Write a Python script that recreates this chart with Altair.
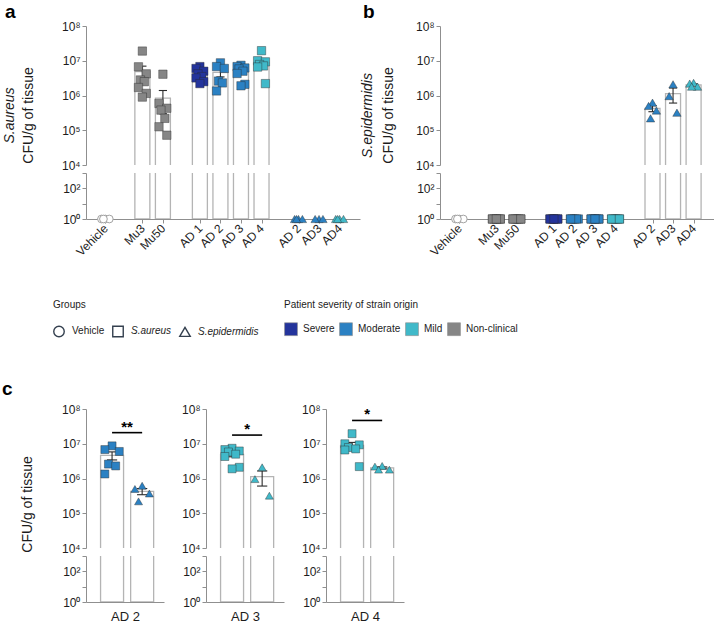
import altair as alt
import pandas as pd

FONT = "Liberation Sans"

# ---- CFU per gram of tissue, one entry per mouse ----
SA_STRAINS = ["Mu3", "Mu50", "AD 1", "AD 2", "AD 3", "AD 4"]
SA_SEVERITY = ["Non-clinical", "Non-clinical", "Severe", "Moderate", "Moderate", "Mild"]
sa_mu3 = [1.9e7, 6.7e6, 4.2e6, 2.8e6, 2.5e6, 1.7e6, 1.15e6, 9.0e5]
sa_mu50 = [4.1e6, 5.9e5, 4.3e5, 3.8e5, 2.2e5, 1.26e5, 7.2e4]
sa_ad1 = [6.8e6, 6.0e6, 5.0e6, 4.2e6, 3.5e6, 3.2e6, 2.5e6, 2.2e6]
sa_ad2 = [8.7e6, 6.8e6, 6.0e6, 2.6e6, 2.3e6, 1.35e6]
sa_ad3 = [7.4e6, 6.8e6, 6.2e6, 5.8e6, 5.0e6, 4.3e6, 2.1e6, 1.9e6]
sa_ad4 = [1.95e7, 1.0e7, 9.3e6, 7.8e6, 7.1e6, 6.6e6, 2.2e6]
SA_VALUES = [sa_mu3, sa_mu50, sa_ad1, sa_ad2, sa_ad3, sa_ad4]

SE_STRAINS = ["AD 2", "AD3", "AD4"]
SE_SEVERITY = ["Moderate", "Moderate", "Mild"]
se_ad2 = [6.2e5, 5.0e5, 3.7e5, 2.2e5]
se_ad3 = [2.1e6, 9.6e5, 3.2e5]
se_ad4 = [2.3e6, 2.2e6, 1.8e6, 1.8e6]
SE_VALUES = [se_ad2, se_ad3, se_ad4]

VEHICLE_MICE = 4
BELOW_DETECTION = 1.0  # plotted on the 10^0 line

# paired S. aureus vs S. epidermidis comparison per AD strain
PAIR_STRAINS = ["AD 2", "AD 3", "AD 4"]
PAIR_SEVERITY = ["Moderate", "Mild", "Mild"]
PAIR_SA = [sa_ad2, sa_ad3, sa_ad4]
PAIR_SE = [se_ad2, se_ad3, se_ad4]
PAIR_SIGNIFICANCE = ["**", "*", "*"]

GROUPS = ["Vehicle", "S.aureus", "S.epidermidis"]
GROUP_SHAPES = ["circle", "square", "triangle-up"]
SEVERITIES = ["Severe", "Moderate", "Mild", "Non-clinical"]
SEVERITY_COLORS = ["#24349c", "#2b81c3", "#40b9c9", "#868686"]

# ---- styling ----
EDGE = "#b4b4b4"
AXIS_GREY = "#8f8f8f"
INK = "#1c1c1c"
SUP_EXPR = "'10' + ['\u2070','\u00b9','\u00b2','\u00b3','\u2074','\u2075','\u2076','\u2077','\u2078'][round(log(datum.value) / LN10)]"
LOW_EXPR = "datum.value == 1 ? '10\u2070' : (datum.value == 100 ? '10\u00b2' : '')"
SPREAD = [0.0, -1.0, 1.0, -0.5, 0.5, -1.0, 1.0, 0.0, -0.5]

SHAPE_LEGEND = alt.Legend(
    title="Groups", orient="none", legendX=-33, legendY=274, direction="horizontal",
    titleFont=FONT, titleFontSize=10, titleFontWeight="normal", titleColor=INK,
    titlePadding=15, labelFont=FONT, labelFontSize=10, labelColor=INK,
    labelOffset=7, symbolSize=110, symbolStrokeWidth=1.4, columnPadding=4,
    symbolFillColor="transparent", symbolStrokeColor="#34404f",
    labelFontStyle=alt.ExprRef(expr="datum.label == 'Vehicle' ? 'normal' : 'italic'"),
)
FILL_LEGEND = alt.Legend(
    title="Patient severity of strain origin", orient="none", legendX=198, legendY=274,
    direction="horizontal", titleFont=FONT, titleFontSize=10,
    titleFontWeight="normal", titleColor=INK, titlePadding=12, labelFont=FONT,
    labelFontSize=10, labelColor=INK, labelOffset=5, symbolType="square",
    symbolSize=165, columnPadding=3, symbolStrokeColor="#8a8a8a",
    symbolStrokeWidth=0.6,
)
SHAPE = alt.Shape("group:N", scale=alt.Scale(domain=GROUPS, range=GROUP_SHAPES),
                  legend=SHAPE_LEGEND)
FILL = alt.Fill("severity:N", scale=alt.Scale(domain=SEVERITIES, range=SEVERITY_COLORS),
                legend=FILL_LEGEND)


def slot_positions():
    # clusters: vehicle | reference strains | AD S. aureus | AD S. epidermidis
    pos, x = [], 0.7
    for n in [1, 2, 4, 3]:
        pos += [x + i for i in range(n)]
        x += n - 1 + 1.8
    return pos


def overview_table(measured):
    slots = [("Vehicle", "Vehicle", None, [BELOW_DETECTION] * VEHICLE_MICE)]
    for name, sev, vals in zip(SA_STRAINS, SA_SEVERITY, SA_VALUES):
        v = vals if measured == "S.aureus" else [BELOW_DETECTION] * len(vals)
        slots.append((name, "S.aureus", sev, v))
    for name, sev, vals in zip(SE_STRAINS, SE_SEVERITY, SE_VALUES):
        v = vals if measured == "S.epidermidis" else [BELOW_DETECTION] * len(vals)
        slots.append((name, "S.epidermidis", sev, v))
    positions = slot_positions()
    rows = []
    for (label, group, sev, vals), p in zip(slots, positions):
        for i, v in enumerate(vals):
            rows.append(dict(pos=p, x=p + SPREAD[i % len(SPREAD)] * 0.19, cfu=v,
                             group=group, severity=sev))
    return pd.DataFrame(rows), [s[0] for s in slots], positions


def pair_table(k):
    rows = []
    for p, group, vals in [(0.7, "S.aureus", PAIR_SA[k]), (1.7, "S.epidermidis", PAIR_SE[k])]:
        for i, v in enumerate(vals):
            rows.append(dict(pos=p, x=p + SPREAD[i % len(SPREAD)] * 0.24, cfu=v,
                             group=group, severity=PAIR_SEVERITY[k]))
    return pd.DataFrame(rows)


def label_expr(labels, positions):
    expr = "''"
    for lab, p in reversed(list(zip(labels, positions))):
        expr = f"abs(datum.value - {p}) < 0.01 ? '{lab}' : ({expr})"
    return expr


def stack(df, *, width, xmax, bar_w, cap, pt, up_axis, low_axis, x_axis, bracket=None,
          letter=None):
    xs = alt.Scale(domain=[0, xmax], nice=False, zero=False)
    ys_u = alt.Scale(type="log", domain=[1e4, 1e8], nice=False)
    ys_l = alt.Scale(type="log", domain=[1, 1e3], nice=False)
    base = alt.Chart(df)
    agg = base.transform_aggregate(
        mean="mean(cfu)", se="stderr(cfu)", groupby=["pos"]
    ).transform_filter("datum.mean > 1")
    err = agg.transform_calculate(
        lo="max(datum.mean - datum.se, 1)", hi="datum.mean + datum.se",
        xa=f"datum.pos - {cap}", xb=f"datum.pos + {cap}",
    )

    def layers(ys, yaxis, xaxis, lower):
        bars = agg.mark_bar(size=bar_w, fill="white", stroke=EDGE, strokeWidth=1.3,
                            clip=True).encode(
            x=alt.X("pos:Q", scale=xs, axis=xaxis),
            y=alt.Y("mean:Q", scale=ys, axis=yaxis),
            y2=alt.datum(1),
        )
        out = [bars]
        if not lower:
            stem = err.mark_rule(color="#2a2a2a", strokeWidth=1.1, clip=True).encode(
                x=alt.X("pos:Q", scale=xs, axis=xaxis),
                y=alt.Y("lo:Q", scale=ys, axis=yaxis), y2="hi:Q")
            caps = err.transform_fold(["lo", "hi"], as_=["end", "yv"]).mark_rule(
                color="#2a2a2a", strokeWidth=1.1, clip=True).encode(
                x=alt.X("xa:Q", scale=xs, axis=xaxis), x2="xb:Q",
                y=alt.Y("yv:Q", scale=ys, axis=yaxis))
            out += [stem, caps]
        test = "datum.cfu <= 1000" if lower else "datum.cfu >= 10000"
        pts = base.transform_filter(f"datum.group != 'Vehicle' && {test}").mark_point(
            filled=True, size=pt, stroke="#2b2b2b", strokeWidth=0.6, strokeOpacity=0.7,
            opacity=1).encode(
            x=alt.X("x:Q", scale=xs, axis=xaxis),
            y=alt.Y("cfu:Q", scale=ys, axis=yaxis),
            shape=SHAPE, fill=FILL)
        out.append(pts)
        if lower and (df["group"] == "Vehicle").any():
            veh = base.transform_filter("datum.group == 'Vehicle'").mark_point(
                shape="circle", filled=True, color="white", stroke="#a3a3a3",
                strokeWidth=1, size=60, opacity=1).encode(
                x=alt.X("x:Q", scale=xs, axis=xaxis),
                y=alt.Y("cfu:Q", scale=ys, axis=yaxis))
            out.append(veh)
        return out

    up = layers(ys_u, up_axis, None, False)
    if bracket is not None:
        bdf = pd.DataFrame([bracket])
        up.append(alt.Chart(bdf).mark_rule(color="black", strokeWidth=1.6).encode(
            x=alt.X("x1:Q", scale=xs, axis=None), x2="x2:Q",
            y=alt.Y("y:Q", scale=ys_u, axis=up_axis)))
        up.append(alt.Chart(bdf).mark_text(fontSize=15, fontWeight="bold", dy=-6,
                                           color="black", font=FONT).encode(
            x=alt.X("xm:Q", scale=xs, axis=None),
            y=alt.Y("y:Q", scale=ys_u, axis=up_axis), text="label:N"))
    upper = alt.layer(*up).properties(width=width, height=139)
    lower = alt.layer(*layers(ys_l, low_axis, x_axis, True)).properties(width=width, height=46)
    kw = {}
    if letter is not None:
        kw["title"] = letter
    return alt.vconcat(upper, lower, spacing=8, bounds="flush", **kw)


def y_axes(species, title_x, sp_x):
    up = alt.Axis(values=[1e4, 1e5, 1e6, 1e7, 1e8], labelExpr=SUP_EXPR,
                  title="CFU/g of tissue", titleX=title_x, titleY=89)
    low = alt.Axis(values=[1, 10, 100, 1000], labelExpr=LOW_EXPR, title=species,
                   titleFontStyle="italic", titleX=sp_x, titleY=-58)
    return up, low


def letter_title(t, dx=0, offset=-2):
    return alt.Title(t, anchor="start", frame="bounds", fontSize=19, fontWeight="bold",
                     font=FONT, color="black", offset=offset, dx=dx)


def overview(measured, title_x, sp_x, letter):
    df, labels, positions = overview_table(measured)
    up, low = y_axes(measured, title_x, sp_x)
    xax = alt.Axis(values=positions, labelExpr=label_expr(labels, positions),
                   labelAngle=315, labelAlign="right", labelBaseline="middle",
                   labelPadding=3, tickSize=4, title="", labelFontSize=12,
                   labelOverlap=False, labelBound=False)
    return stack(df, width=274, xmax=12.85, bar_w=15, cap=0.2, pt=70, up_axis=up,
                 low_axis=low, x_axis=xax, letter=letter_title(letter, 3))


def pair(k):
    df = pair_table(k)
    top = max(PAIR_SA[k] + PAIR_SE[k]) * 2.4
    bracket = dict(x1=0.7, x2=1.7, xm=1.2, y=top, label=PAIR_SIGNIFICANCE[k])
    if k == 0:
        up = alt.Axis(values=[1e4, 1e5, 1e6, 1e7, 1e8], labelExpr=SUP_EXPR,
                      title="CFU/g of tissue", titleX=-52, titleY=95)
    else:
        up = alt.Axis(values=[1e4, 1e5, 1e6, 1e7, 1e8], labelExpr=SUP_EXPR, title="")
    low = alt.Axis(values=[1, 10, 100, 1000], labelExpr=LOW_EXPR, title="")
    xax = alt.Axis(labels=False, ticks=False, title=PAIR_STRAINS[k], titleFontSize=13,
                   titlePadding=8)
    return stack(df, width=78, xmax=2.26, bar_w=23, cap=0.17, pt=64, up_axis=up,
                 low_axis=low, x_axis=xax, bracket=bracket,
                 letter=letter_title("c", -18, 4) if k == 0 else None)


row1 = alt.hconcat(overview("S.aureus", -51, -70, "a"),
                   overview("S.epidermidis", -45, -66, "b"), spacing=0)
row2 = alt.hconcat(pair(0), pair(1), pair(2), spacing=17)

chart = alt.vconcat(row1, row2, spacing=122).properties(
    padding={"left": 2, "top": 3, "right": 0, "bottom": 0}
).configure(font=FONT).configure_view(strokeWidth=0).configure_axis(
    grid=False, domainColor=AXIS_GREY, tickColor=AXIS_GREY, tickSize=4,
    labelFont=FONT, titleFont=FONT, labelColor=INK, titleColor=INK,
    labelFontSize=12, titleFontSize=14, titleFontWeight="normal", labelPadding=2,
)

chart.save("out.html", embed_options={"renderer": "svg", "actions": False})
